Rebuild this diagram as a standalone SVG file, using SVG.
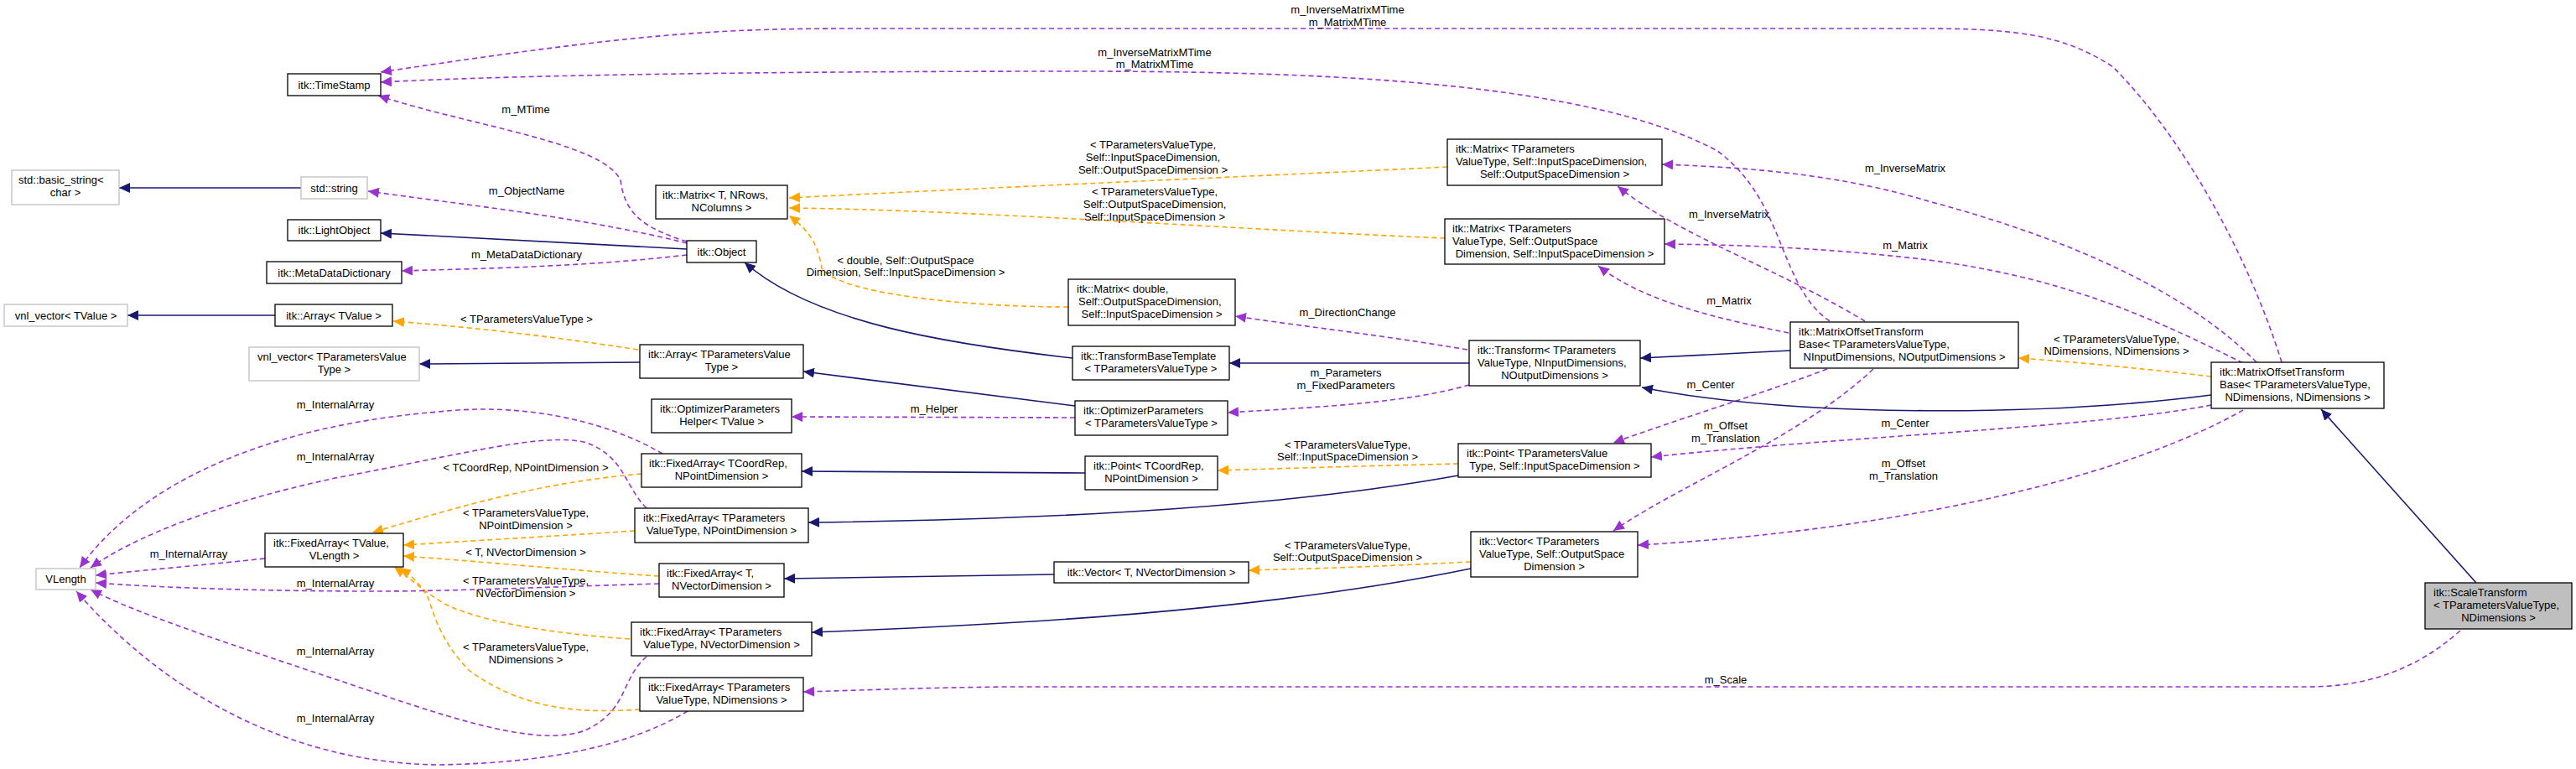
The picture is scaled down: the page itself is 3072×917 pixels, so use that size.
<svg xmlns="http://www.w3.org/2000/svg" width="3072" height="917" viewBox="0 0 3072 917">
<style>
.n rect{fill:#fff;stroke:#000;stroke-width:1.3}
.n.g rect{stroke:#bfbfbf}
.n.f rect{fill:#bfbfbf}
text{font-family:"Liberation Sans",Arial,sans-serif;font-size:13px;fill:#000}
.c{text-anchor:middle}
.e path{fill:none;stroke-width:1.6}
.inh{stroke:#191970}
.use{stroke:#9a32cd;stroke-dasharray:6,4}
.tpl{stroke:#ffa500;stroke-dasharray:6,4}
</style>
<defs>
<marker id="ai" markerUnits="userSpaceOnUse" markerWidth="14" markerHeight="12" refX="13" refY="6" orient="auto"><path d="M0,0 L13,6 L0,12 z" fill="#191970"/></marker>
<marker id="au" markerUnits="userSpaceOnUse" markerWidth="14" markerHeight="12" refX="13" refY="6" orient="auto"><path d="M0,0 L13,6 L0,12 z" fill="#9a32cd"/></marker>
<marker id="at" markerUnits="userSpaceOnUse" markerWidth="14" markerHeight="12" refX="13" refY="6" orient="auto"><path d="M0,0 L13,6 L0,12 z" fill="#ffa500"/></marker>
</defs>
<g id="edges" class="e">
<path class="inh" marker-end="url(#ai)" d="M359,224 L142,224"/>
<path class="inh" marker-end="url(#ai)" d="M819,297 L454,278"/>
<path class="use" marker-end="url(#au)" d="M819,288 C760,270 745,250 740,215 C720,170 560,150 451,114"/>
<path class="use" marker-end="url(#au)" d="M819,290 C700,260 560,245 439,228"/>
<path class="use" marker-end="url(#au)" d="M819,304 C700,318 580,320 479,323"/>
<path class="inh" marker-end="url(#ai)" d="M328,376 L152,376"/>
<path class="tpl" marker-end="url(#at)" d="M761,417 C650,400 560,390 469,383"/>
<path class="inh" marker-end="url(#ai)" d="M763,432 L500,434"/>
<path class="inh" marker-end="url(#ai)" d="M1279,427 C1130,410 970,385 888,313"/>
<path class="inh" marker-end="url(#ai)" d="M1282,484 L958,443"/>
<path class="use" marker-end="url(#au)" d="M1282,498 L944,497"/>
<path class="inh" marker-end="url(#ai)" d="M1752,433 L1466,433"/>
<path class="use" marker-end="url(#au)" d="M1750,417 C1650,400 1560,390 1473,377"/>
<path class="use" marker-end="url(#au)" d="M1752,459 C1680,480 1580,485 1464,492"/>
<path class="tpl" marker-end="url(#at)" d="M1274,366 C1150,366 1000,350 980,320 C975,290 965,275 941,257"/>
<path class="tpl" marker-end="url(#at)" d="M1726,199 C1500,210 1150,225 941,236"/>
<path class="tpl" marker-end="url(#at)" d="M1723,284 C1500,275 1150,250 941,248"/>
<path class="inh" marker-end="url(#ai)" d="M2135,418 L1956,427"/>
<path class="use" marker-end="url(#au)" d="M2224,383 C2120,320 2000,280 1929,222"/>
<path class="use" marker-end="url(#au)" d="M2133,397 C2050,380 1960,360 1906,317"/>
<path class="use" marker-end="url(#au)" d="M2182,383 C2120,340 2130,240 2048,180 C1900,100 1600,85 1285,85 C900,85 600,90 454,98"/>
<path class="use" marker-end="url(#au)" d="M2179,440 C2100,470 2000,500 1924,528"/>
<path class="use" marker-end="url(#au)" d="M2234,440 C2150,520 2000,580 1924,633"/>
<path class="tpl" marker-end="url(#at)" d="M2637,449 C2560,440 2480,432 2407,427"/>
<path class="inh" marker-end="url(#ai)" d="M2637,471 C2450,495 2150,500 1958,462"/>
<path class="inh" marker-end="url(#ai)" d="M2953,695 L2768,488"/>
<path class="use" marker-end="url(#au)" d="M2934,752 C2880,800 2820,819 2753,819 L1200,819 C1100,820 1030,823 958,825"/>
<path class="use" marker-end="url(#au)" d="M2721,432 C2680,300 2600,160 2520,80 C2460,40 2400,34 2290,34 L1024,34 C850,34 760,40 454,86"/>
<path class="use" marker-end="url(#au)" d="M2691,432 C2600,340 2450,280 2300,240 C2200,210 2100,200 1982,196"/>
<path class="use" marker-end="url(#au)" d="M2675,433 C2550,370 2450,330 2300,310 C2200,298 2100,292 1985,291"/>
<path class="use" marker-end="url(#au)" d="M2637,483 C2500,510 2200,520 1969,545"/>
<path class="use" marker-end="url(#au)" d="M2675,489 C2550,560 2300,630 1953,650"/>
<path class="tpl" marker-end="url(#at)" d="M1739,553 C1650,555 1550,558 1452,561"/>
<path class="inh" marker-end="url(#ai)" d="M1739,567 C1500,610 1200,620 964,623"/>
<path class="inh" marker-end="url(#ai)" d="M1294,564 L956,562"/>
<path class="tpl" marker-end="url(#at)" d="M1754,670 C1650,675 1580,678 1489,680"/>
<path class="inh" marker-end="url(#ai)" d="M1754,678 C1500,730 1200,745 968,754"/>
<path class="inh" marker-end="url(#ai)" d="M1257,685 L935,690"/>
<path class="tpl" marker-end="url(#at)" d="M765,565 C650,575 560,600 444,635"/>
<path class="tpl" marker-end="url(#at)" d="M757,633 C650,640 560,645 481,650"/>
<path class="tpl" marker-end="url(#at)" d="M786,687 C680,680 580,670 481,663"/>
<path class="tpl" marker-end="url(#at)" d="M751,762 C650,755 570,740 530,720 C505,705 490,690 470,676"/>
<path class="tpl" marker-end="url(#at)" d="M763,846 C700,850 630,850 560,800 C520,760 515,720 509,710 C500,695 490,686 477,677"/>
<path class="use" marker-end="url(#au)" d="M316,666 C230,675 170,680 114,686"/>
<path class="use" marker-end="url(#au)" d="M790,541 C720,500 620,480 523,491 C350,505 180,560 95,677"/>
<path class="use" marker-end="url(#au)" d="M771,606 C745,580 745,545 700,528 C650,515 560,540 400,570 C260,600 160,640 108,677"/>
<path class="use" marker-end="url(#au)" d="M786,696 C650,700 540,705 450,705 C300,705 180,700 114,695"/>
<path class="use" marker-end="url(#au)" d="M771,783 C740,810 750,845 700,870 C640,895 520,850 400,810 C250,760 160,730 108,703"/>
<path class="use" marker-end="url(#au)" d="M820,848 C750,890 650,910 523,912 C350,910 200,830 91,705"/>
</g>
<g id="elabels">
<text class="c" x="627" y="135">m_MTime</text>
<text class="c" x="628" y="232">m_ObjectName</text>
<text class="c" x="628" y="308">m_MetaDataDictionary</text>
<text class="c" x="628" y="385">&lt; TParametersValueType &gt;</text>
<text class="c" x="1114" y="492">m_Helper</text>
<text class="c" x="1607" y="377">m_DirectionChange</text>
<text class="c" x="1605" y="449">m_Parameters</text>
<text class="c" x="1605" y="464">m_FixedParameters</text>
<text class="c" x="1080" y="315">&lt; double, Self::OutputSpace</text>
<text class="c" x="1080" y="329">Dimension, Self::InputSpaceDimension &gt;</text>
<text class="c" x="1375" y="177">&lt; TParametersValueType,</text>
<text class="c" x="1375" y="192">Self::InputSpaceDimension,</text>
<text class="c" x="1375" y="207">Self::OutputSpaceDimension &gt;</text>
<text class="c" x="1377" y="233">&lt; TParametersValueType,</text>
<text class="c" x="1377" y="248">Self::OutputSpaceDimension,</text>
<text class="c" x="1377" y="263">Self::InputSpaceDimension &gt;</text>
<text class="c" x="2062" y="260">m_InverseMatrix</text>
<text class="c" x="2062" y="363">m_Matrix</text>
<text class="c" x="1377" y="67">m_InverseMatrixMTime</text>
<text class="c" x="1377" y="81">m_MatrixMTime</text>
<text class="c" x="2040" y="463">m_Center</text>
<text class="c" x="2058" y="512">m_Offset</text>
<text class="c" x="2058" y="527">m_Translation</text>
<text class="c" x="2524" y="409">&lt; TParametersValueType,</text>
<text class="c" x="2524" y="423">NDimensions, NDimensions &gt;</text>
<text class="c" x="2058" y="815">m_Scale</text>
<text class="c" x="1607" y="16">m_InverseMatrixMTime</text>
<text class="c" x="1607" y="31">m_MatrixMTime</text>
<text class="c" x="2272" y="205">m_InverseMatrix</text>
<text class="c" x="2272" y="297">m_Matrix</text>
<text class="c" x="2272" y="509">m_Center</text>
<text class="c" x="2270" y="557">m_Offset</text>
<text class="c" x="2270" y="572">m_Translation</text>
<text class="c" x="1607" y="535">&lt; TParametersValueType,</text>
<text class="c" x="1607" y="549">Self::InputSpaceDimension &gt;</text>
<text class="c" x="1607" y="655">&lt; TParametersValueType,</text>
<text class="c" x="1607" y="669">Self::OutputSpaceDimension &gt;</text>
<text class="c" x="627" y="562">&lt; TCoordRep, NPointDimension &gt;</text>
<text class="c" x="627" y="616">&lt; TParametersValueType,</text>
<text class="c" x="627" y="631">NPointDimension &gt;</text>
<text class="c" x="627" y="663">&lt; T, NVectorDimension &gt;</text>
<text class="c" x="627" y="697">&lt; TParametersValueType,</text>
<text class="c" x="627" y="712">NVectorDimension &gt;</text>
<text class="c" x="627" y="776">&lt; TParametersValueType,</text>
<text class="c" x="627" y="791">NDimensions &gt;</text>
<text class="c" x="225" y="665">m_InternalArray</text>
<text class="c" x="400" y="487">m_InternalArray</text>
<text class="c" x="400" y="549">m_InternalArray</text>
<text class="c" x="400" y="700">m_InternalArray</text>
<text class="c" x="400" y="781">m_InternalArray</text>
<text class="c" x="400" y="861">m_InternalArray</text>
</g>
<g id="n1" class="n"><rect x="343" y="88" width="111" height="26"/><text class="c" x="398.5" y="106">itk::TimeStamp</text></g>
<g id="n2" class="n g"><rect x="14" y="203" width="128" height="41"/><text x="22" y="219">std::basic_string&lt;</text><text class="c" x="78" y="234">char &gt;</text></g>
<g id="n3" class="n g"><rect x="359" y="211" width="79" height="26"/><text class="c" x="398.5" y="229">std::string</text></g>
<g id="n4" class="n"><rect x="343" y="262" width="111" height="25"/><text class="c" x="398.5" y="279">itk::LightObject</text></g>
<g id="n5" class="n"><rect x="318" y="312" width="161" height="26"/><text class="c" x="398.5" y="330">itk::MetaDataDictionary</text></g>
<g id="n6" class="n"><rect x="819" y="287" width="83" height="26"/><text class="c" x="860.5" y="305">itk::Object</text></g>
<g id="n7" class="n"><rect x="782" y="221" width="157" height="40"/><text x="790" y="237">itk::Matrix&lt; T, NRows,</text><text class="c" x="860.5" y="252">NColumns &gt;</text></g>
<g id="n8" class="n g"><rect x="5" y="363" width="147" height="26"/><text class="c" x="78.5" y="381">vnl_vector&lt; TValue &gt;</text></g>
<g id="n9" class="n"><rect x="328" y="363" width="140" height="26"/><text class="c" x="398" y="381">itk::Array&lt; TValue &gt;</text></g>
<g id="n10" class="n g"><rect x="297" y="414" width="203" height="40"/><text x="307" y="430">vnl_vector&lt; TParametersValue</text><text class="c" x="398.5" y="445">Type &gt;</text></g>
<g id="n11" class="n"><rect x="763" y="411" width="195" height="40"/><text x="773" y="427">itk::Array&lt; TParametersValue</text><text class="c" x="860.5" y="442">Type &gt;</text></g>
<g id="n12" class="n"><rect x="777" y="476" width="167" height="40"/><text x="787" y="492">itk::OptimizerParameters</text><text class="c" x="860.5" y="507">Helper&lt; TValue &gt;</text></g>
<g id="n13" class="n"><rect x="765" y="541" width="191" height="40"/><text x="774" y="557">itk::FixedArray&lt; TCoordRep,</text><text class="c" x="860.5" y="572">NPointDimension &gt;</text></g>
<g id="n14" class="n"><rect x="757" y="606" width="207" height="41"/><text x="767" y="622">itk::FixedArray&lt; TParameters</text><text class="c" x="860.5" y="637">ValueType, NPointDimension &gt;</text></g>
<g id="n15" class="n"><rect x="316" y="636" width="165" height="40"/><text x="326" y="652">itk::FixedArray&lt; TValue,</text><text class="c" x="398.5" y="667">VLength &gt;</text></g>
<g id="n16" class="n g"><rect x="43" y="678" width="71" height="25"/><text class="c" x="78.5" y="695">VLength</text></g>
<g id="n17" class="n"><rect x="786" y="672" width="149" height="40"/><text x="795" y="688">itk::FixedArray&lt; T,</text><text class="c" x="860.5" y="703">NVectorDimension &gt;</text></g>
<g id="n18" class="n"><rect x="753" y="742" width="215" height="40"/><text x="763" y="758">itk::FixedArray&lt; TParameters</text><text class="c" x="860.5" y="773">ValueType, NVectorDimension &gt;</text></g>
<g id="n19" class="n"><rect x="763" y="808" width="195" height="40"/><text x="773" y="824">itk::FixedArray&lt; TParameters</text><text class="c" x="860.5" y="839">ValueType, NDimensions &gt;</text></g>
<g id="n20" class="n"><rect x="1726" y="166" width="256" height="55"/><text x="1736" y="182">itk::Matrix&lt; TParameters</text><text x="1736" y="197">ValueType, Self::InputSpaceDimension,</text><text class="c" x="1854" y="212">Self::OutputSpaceDimension &gt;</text></g>
<g id="n21" class="n"><rect x="1723" y="261" width="262" height="54"/><text x="1732" y="277">itk::Matrix&lt; TParameters</text><text x="1732" y="292">ValueType, Self::OutputSpace</text><text class="c" x="1854" y="307">Dimension, Self::InputSpaceDimension &gt;</text></g>
<g id="n22" class="n"><rect x="1274" y="333" width="199" height="55"/><text x="1284" y="349">itk::Matrix&lt; double,</text><text x="1286" y="364">Self::OutputSpaceDimension,</text><text class="c" x="1373.5" y="379">Self::InputSpaceDimension &gt;</text></g>
<g id="n23" class="n"><rect x="1279" y="413" width="187" height="40"/><text x="1289" y="429">itk::TransformBaseTemplate</text><text class="c" x="1372.5" y="444">&lt; TParametersValueType &gt;</text></g>
<g id="n24" class="n"><rect x="1752" y="406" width="204" height="54"/><text x="1762" y="422">itk::Transform&lt; TParameters</text><text x="1762" y="437">ValueType, NInputDimensions,</text><text class="c" x="1854" y="452">NOutputDimensions &gt;</text></g>
<g id="n25" class="n"><rect x="1282" y="478" width="182" height="41"/><text x="1292" y="494">itk::OptimizerParameters</text><text class="c" x="1373" y="509">&lt; TParametersValueType &gt;</text></g>
<g id="n26" class="n"><rect x="1294" y="544" width="158" height="40"/><text x="1304" y="560">itk::Point&lt; TCoordRep,</text><text class="c" x="1373" y="575">NPointDimension &gt;</text></g>
<g id="n27" class="n"><rect x="1739" y="529" width="230" height="40"/><text x="1749" y="545">itk::Point&lt; TParametersValue</text><text class="c" x="1854" y="560">Type, Self::InputSpaceDimension &gt;</text></g>
<g id="n28" class="n"><rect x="1257" y="670" width="232" height="25"/><text class="c" x="1373" y="687">itk::Vector&lt; T, NVectorDimension &gt;</text></g>
<g id="n29" class="n"><rect x="1754" y="634" width="199" height="54"/><text x="1764" y="650">itk::Vector&lt; TParameters</text><text x="1764" y="665">ValueType, Self::OutputSpace</text><text class="c" x="1853.5" y="680">Dimension &gt;</text></g>
<g id="n30" class="n"><rect x="2135" y="384" width="272" height="55"/><text x="2145" y="400">itk::MatrixOffsetTransform</text><text x="2145" y="415">Base&lt; TParametersValueType,</text><text class="c" x="2271" y="430">NInputDimensions, NOutputDimensions &gt;</text></g>
<g id="n31" class="n"><rect x="2637" y="432" width="206" height="55"/><text x="2647" y="448">itk::MatrixOffsetTransform</text><text x="2647" y="463">Base&lt; TParametersValueType,</text><text class="c" x="2740" y="478">NDimensions, NDimensions &gt;</text></g>
<g id="n32" class="n f"><rect x="2892" y="695" width="175" height="55"/><text x="2902" y="711">itk::ScaleTransform</text><text x="2902" y="726">&lt; TParametersValueType,</text><text class="c" x="2979.5" y="741">NDimensions &gt;</text></g>
</svg>
